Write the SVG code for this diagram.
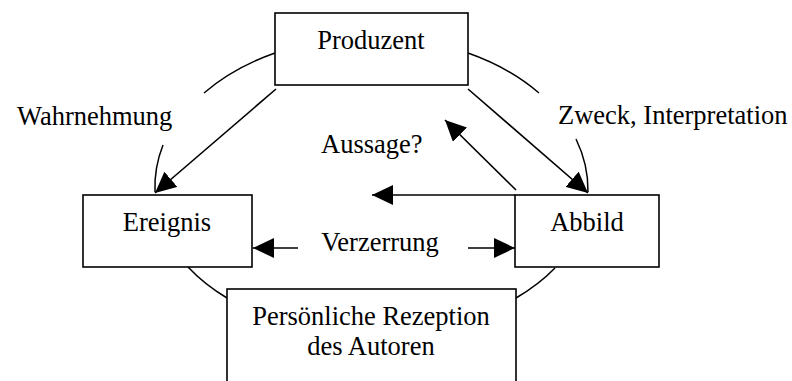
<svg xmlns="http://www.w3.org/2000/svg" width="792" height="381" viewBox="0 0 792 381">
<defs>
<style>
.box{fill:#fff;stroke:#000;stroke-width:1.6}
.arc{fill:none;stroke:#000;stroke-width:1.5}
.con{fill:none;stroke:#000;stroke-width:1.6;marker-end:url(#ah)}
text{font-family:"Liberation Serif","Times New Roman",serif;font-size:26.5px;fill:#000}
.m{text-anchor:middle}
</style>
<marker id="ah" markerUnits="userSpaceOnUse" markerWidth="22" markerHeight="20" viewBox="0 0 22 20" refX="21" refY="10" orient="auto">
<path d="M0,0 L21,10 L0,20 Z" fill="#000"/>
</marker>
</defs>
<g id="arcs">
<path class="arc" d="M275,53 A216.5,155 0 0 0 204,93"/>
<path class="arc" d="M163,145 A216.5,155 0 0 0 155,192"/>
<path class="arc" d="M188,267 A216.5,145 0 0 0 227,298"/>
<path class="arc" d="M468,53 A216.5,155 0 0 1 539,93"/>
<path class="arc" d="M576,139 A216.5,155 0 0 1 588,192"/>
<path class="arc" d="M555,268 A216.5,145 0 0 1 516,298"/>
</g>
<g id="connectors">
<path class="con" d="M276,89 L155,193"/>
<path class="con" d="M468,89 L588,193"/>
<path class="con" d="M516,190 L445,120"/>
<path class="con" d="M515,195 L372,195"/>
<path class="con" d="M298,248 L253,248"/>
<path class="con" d="M468,248 L515,248"/>
</g>
<g id="produzent">
<rect class="box" x="275" y="13" width="193" height="72"/>
<text class="m" x="371" y="49">Produzent</text>
</g>
<g id="ereignis">
<rect class="box" x="83" y="195" width="169" height="72"/>
<text class="m" x="167" y="231">Ereignis</text>
</g>
<g id="abbild">
<rect class="box" x="515" y="195" width="144" height="72"/>
<text class="m" x="587" y="231">Abbild</text>
</g>
<g id="rezeption">
<rect class="box" x="227" y="289" width="289" height="120"/>
<text class="m" x="371" y="325">Persönliche Rezeption</text>
<text class="m" x="371" y="355">des Autoren</text>
</g>
<g id="labels">
<text x="17" y="125">Wahrnehmung</text>
<text x="558" y="124">Zweck, Interpretation</text>
<text x="321" y="153">Aussage?</text>
<text class="m" x="380" y="251">Verzerrung</text>
</g>
</svg>
